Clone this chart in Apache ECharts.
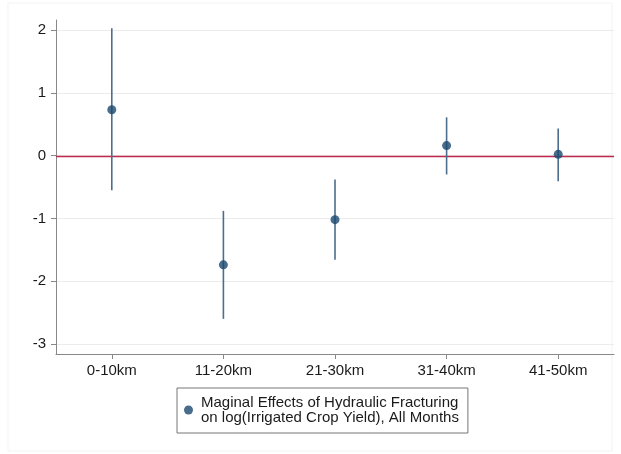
<!DOCTYPE html>
<html>
<head>
<meta charset="utf-8">
<script src="https://cdn.jsdelivr.net/npm/echarts@6/dist/echarts.min.js"></script>
<style>
  html, body { margin: 0; padding: 0; background: #ffffff; }
  #chart { width: 621px; height: 454px; }
</style>
</head>
<body>
<div id="chart"></div>
<script>
// Distance bands from the well
const categories = ['0-10km', '11-20km', '21-30km', '31-40km', '41-50km'];
// Point estimates of the marginal effect
const estimates = [0.73, -1.74, -1.02, 0.16, 0.02];
// Confidence interval bounds
const ciLower = [-0.55, -2.60, -1.66, -0.30, -0.41];
const ciUpper = [2.03, -0.88, -0.38, 0.61, 0.43];
// Y-axis tick values
const yTicks = [-3, -2, -1, 0, 1, 2];
// Reference line value
const refLine = [0];

const seriesName = 'Maginal Effects of Hydraulic Fracturing\non log(Irrigated Crop Yield), All Months';
const navy = '#1a476f';
const barColor = '#4d6d8d';
const font = 'Liberation Sans, Arial, Helvetica, sans-serif';

const chart = echarts.init(document.getElementById('chart'), null, { renderer: 'canvas' });

chart.setOption({
  backgroundColor: '#ffffff',
  animation: false,
  textStyle: { fontFamily: font },
  graphic: [{
    type: 'rect',
    shape: { x: 8, y: 3, width: 604, height: 448 },
    style: { fill: 'none', stroke: '#f1f3f5', lineWidth: 1 },
    silent: true,
    z: -10
  }],
  grid: { left: 56, right: 7, top: 20, bottom: 100, containLabel: false },
  legend: {
    left: 177,
    top: 388,
    orient: 'vertical',
    padding: [7, 9, 8, 7],
    borderColor: '#777777',
    borderWidth: 1,
    itemWidth: 9,
    itemHeight: 9,
    icon: 'circle',
    data: [seriesName],
    textStyle: { fontSize: 15, color: '#1a1a1a', lineHeight: 15, fontFamily: font, padding: [0, 0, 0, 3] }
  },
  xAxis: {
    type: 'category',
    data: categories,
    boundaryGap: true,
    axisLine: { show: true, onZero: false, lineStyle: { color: '#888888', width: 1 } },
    axisTick: { show: true, alignWithLabel: true, length: 5, lineStyle: { color: '#888888' } },
    axisLabel: { fontSize: 15, color: '#1a1a1a', margin: 9, fontFamily: font },
    splitLine: { show: false }
  },
  yAxis: {
    type: 'value',
    min: -3.16,
    max: 2.16,
    axisLine: { show: true, onZero: false, lineStyle: { color: '#888888', width: 1 } },
    axisTick: { show: true, length: 5, customValues: yTicks, lineStyle: { color: '#888888' } },
    axisLabel: { fontSize: 15, color: '#1a1a1a', margin: 10, customValues: yTicks, fontFamily: font },
    splitLine: { show: true, lineStyle: { color: '#ececec', width: 1 } }
  },
  series: [
    {
      // Horizontal reference line across the full plot width
      type: 'custom',
      name: 'ref',
      silent: true,
      data: refLine.map(v => [0, v]),
      renderItem: function (params, api) {
        const cs = params.coordSys;
        const y = Math.round(api.coord([0, api.value(1)])[1]) + 0.5;
        return {
          type: 'line',
          shape: { x1: cs.x, y1: y, x2: cs.x + cs.width, y2: y },
          style: { stroke: '#c0284e', lineWidth: 1.3 }
        };
      },
      z: 10
    },
    {
      // Confidence interval spikes
      type: 'custom',
      name: 'ci',
      silent: true,
      data: categories.map((c, i) => [i, ciLower[i], ciUpper[i]]),
      renderItem: function (params, api) {
        const lo = api.coord([api.value(0), api.value(1)]);
        const hi = api.coord([api.value(0), api.value(2)]);
        return {
          type: 'line',
          shape: { x1: lo[0], y1: lo[1], x2: hi[0], y2: hi[1] },
          style: { stroke: barColor, lineWidth: 1.6 }
        };
      },
      z: 11
    },
    {
      type: 'scatter',
      name: seriesName,
      data: estimates,
      symbol: 'circle',
      symbolSize: 9,
      itemStyle: { color: navy },
      z: 12
    }
  ]
});
</script>
</body>
</html>
